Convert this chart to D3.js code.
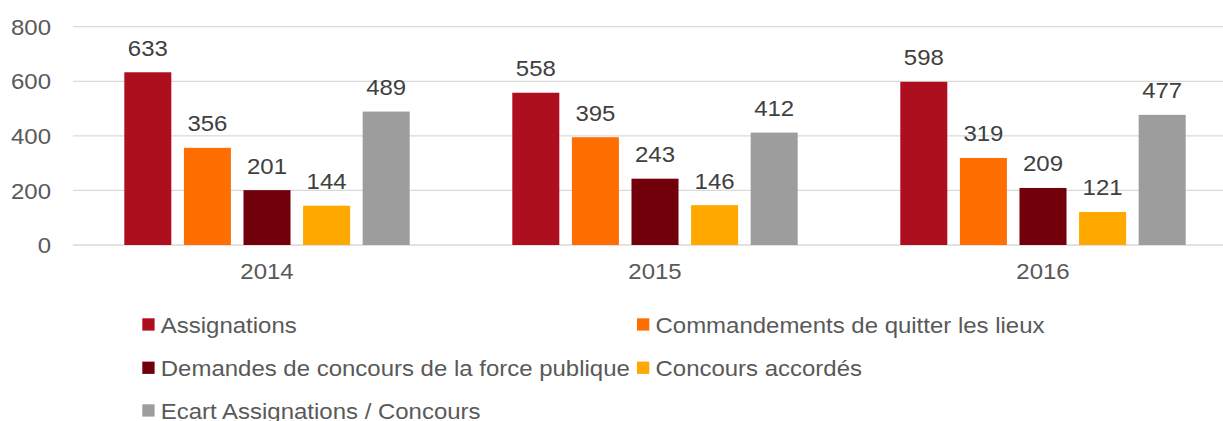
<!DOCTYPE html>
<html>
<head>
<meta charset="utf-8">
<script src="https://cdn.jsdelivr.net/npm/d3@7"></script>
<style>
  body { margin: 0; background: #fff; }
  svg { display: block; font-family: "Liberation Sans", Arial, sans-serif; }
</style>
</head>
<body>
<div id="chart-area"></div>
<script>
// data
const years = ["2014", "2015", "2016"];
const seriesNames = [
  "Assignations",
  "Commandements de quitter les lieux",
  "Demandes de concours de la force publique",
  "Concours accordés",
  "Ecart Assignations / Concours"
];
const assignations = [633, 558, 598];
const commandements = [356, 395, 319];
const demandes = [201, 243, 209];
const accordes = [144, 146, 121];
const ecart = [489, 412, 477];
const yTicks = [0, 200, 400, 600, 800];

const colors = ["#ae0f1e", "#ff6e00", "#72000a", "#ffa800", "#9d9d9d"];
const allValues = [assignations, commandements, demandes, accordes, ecart];

let w = 1223;
let h = 421;
// the original text is a little wider than the font
let stretch = "scale(1.09,1)";

let svg = d3.select("#chart-area")
  .append("svg")
  .attr("width", w)
  .attr("height", h);

// scales
let x0 = d3.scaleBand()
  .domain(years)
  .range([73, 1237])
  .padding(0);

let x1 = d3.scaleBand()
  .domain(seriesNames)
  .range([51.3, x0.bandwidth() - 51.3])
  .paddingInner(0.211)
  .paddingOuter(0);

let yScale = d3.scaleLinear()
  .domain([0, 800])
  .range([245, 26.7]);

// gridlines
svg.append("g")
  .selectAll("line")
  .data(yTicks)
  .enter()
  .append("line")
  .attr("x1", 73)
  .attr("x2", 1237)
  .attr("y1", d => yScale(d))
  .attr("y2", d => yScale(d))
  .attr("stroke", "#d9d9d9")
  .attr("stroke-width", 1.3);

// y axis labels
let yAxis = d3.axisLeft(yScale).tickValues(yTicks).tickSize(0).tickPadding(0);
let yg = svg.append("g")
  .attr("transform", "translate(51,0)")
  .call(yAxis);
yg.select(".domain").remove();
yg.selectAll("text")
  .attr("font-size", 22)
  .attr("font-family", "Liberation Sans, Arial, sans-serif")
  .attr("fill", "#595959")
  .attr("dy", "0.35em")
  .attr("transform", stretch);

// x axis labels
let xAxis = d3.axisBottom(x0).tickSize(0).tickPadding(0);
let xg = svg.append("g")
  .attr("transform", "translate(0,262)")
  .call(xAxis);
xg.select(".domain").remove();
xg.selectAll("text")
  .attr("font-size", 22)
  .attr("font-family", "Liberation Sans, Arial, sans-serif")
  .attr("fill", "#595959")
  .attr("dy", "0.78em")
  .attr("transform", stretch);

// bars
let rows = [];
years.forEach((yr, i) => {
  seriesNames.forEach((s, j) => {
    rows.push({ year: yr, series: s, value: allValues[j][i], color: colors[j] });
  });
});

svg.append("g")
  .selectAll("rect")
  .data(rows)
  .enter()
  .append("rect")
  .attr("x", d => x0(d.year) + x1(d.series))
  .attr("y", d => yScale(d.value))
  .attr("width", x1.bandwidth())
  .attr("height", d => yScale(0) - yScale(d.value))
  .attr("fill", d => d.color);

// value labels
svg.append("g")
  .selectAll("text")
  .data(rows)
  .enter()
  .append("text")
  .attr("transform", d => "translate(" + (x0(d.year) + x1(d.series) + x1.bandwidth() / 2) + "," + (yScale(d.value) - 16.5) + ") " + stretch)
  .attr("text-anchor", "middle")
  .attr("font-size", 22)
  .attr("fill", "#404040")
  .text(d => d.value);

// legend
let legendPos = [
  [142.3, 324.5], [637, 324.5],
  [142.3, 367.8], [637, 367.8],
  [142.3, 410.5]
];
let lg = svg.append("g")
  .selectAll("g")
  .data(seriesNames)
  .enter()
  .append("g")
  .attr("transform", (d, i) => "translate(" + legendPos[i][0] + "," + legendPos[i][1] + ")");

lg.append("rect")
  .attr("x", 0)
  .attr("y", -6.2)
  .attr("width", 12.3)
  .attr("height", 12.3)
  .attr("fill", (d, i) => colors[i]);

lg.append("text")
  .attr("transform", "translate(18.5,8) " + stretch)
  .attr("font-size", 22)
  .attr("fill", "#595959")
  .text(d => d);
</script>
</body>
</html>
